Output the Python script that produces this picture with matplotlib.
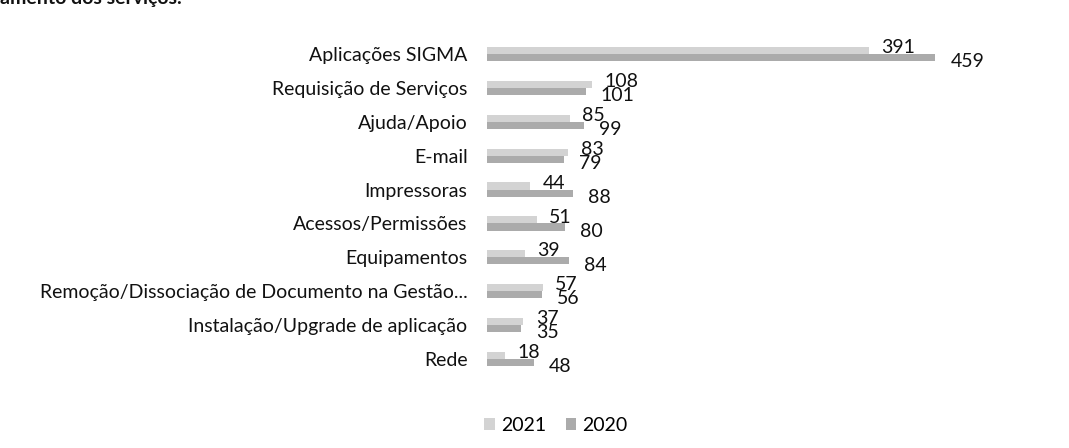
import matplotlib
matplotlib.use("Agg")
import matplotlib.pyplot as plt
import numpy as np

categories = [
    "Aplicações SIGMA",
    "Requisição de Serviços",
    "Ajuda/Apoio",
    "E-mail",
    "Impressoras",
    "Acessos/Permissões",
    "Equipamentos",
    "Remoção/Dissociação de Documento na Gestão...",
    "Instalação/Upgrade de aplicação",
    "Rede",
]
values_2021 = [391, 108, 85, 83, 44, 51, 39, 57, 37, 18]
values_2020 = [459, 101, 99, 79, 88, 80, 84, 56, 35, 48]

color_2021 = "#d3d3d3"
color_2020 = "#ababab"

plt.rcParams["font.family"] = ["Lato", "DejaVu Sans"]

fig = plt.figure(figsize=(10.69, 4.48), dpi=100)
ax = fig.add_axes([0.4556, 0.161, 0.4565, 0.756])

y = np.arange(len(categories))
h = 0.21
bars21 = ax.barh(y - h / 2, values_2021, height=h, color=color_2021, label="2021")
bars20 = ax.barh(y + h / 2, values_2020, height=h, color=color_2020, label="2020")

for b, v in zip(bars21, values_2021):
    ax.annotate(str(v), (b.get_width(), b.get_y() + b.get_height() / 2),
                xytext=(9, 2), textcoords="offset points",
                ha="left", va="center", fontsize=14, color="#111111")
for b, v in zip(bars20, values_2020):
    ax.annotate(str(v), (b.get_width(), b.get_y() + b.get_height() / 2),
                xytext=(11, -3), textcoords="offset points",
                ha="left", va="center", fontsize=14, color="#111111")

ax.set_xlim(0, 500)
ax.set_ylim(len(categories) - 0.5, -0.5)
ax.set_yticks(y)
ax.set_yticklabels(categories, fontsize=14, color="#111111")
ax.tick_params(axis="y", length=0, pad=14)
ax.set_xticks([])
for s in ax.spines.values():
    s.set_visible(False)

fig.legend(handles=[bars21, bars20], labels=["2021", "2020"],
           loc="center", bbox_to_anchor=(0.52, 0.05), ncol=2, frameon=False,
           fontsize=14, handlelength=0.55, handleheight=0.55,
           handletextpad=0.3, columnspacing=1.0)

fig.text(0.0, 1.003, "amento dos serviços.", fontsize=14, fontweight="bold",
         ha="left", va="center", color="#111111")

fig.savefig("out.png", dpi=100)
